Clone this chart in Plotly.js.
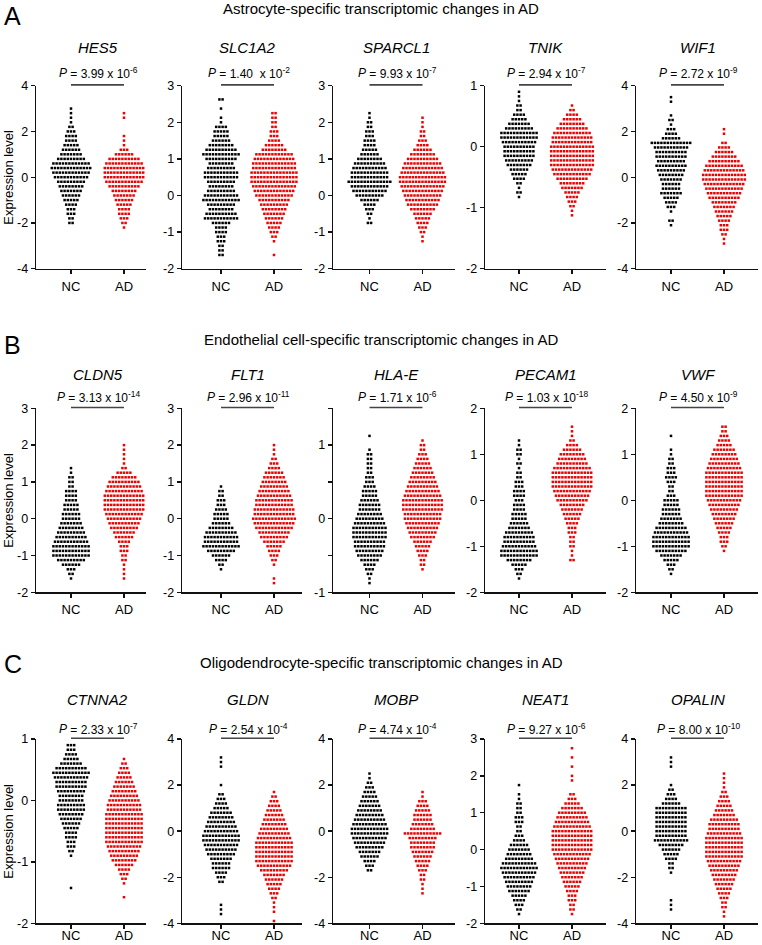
<!DOCTYPE html>
<html><head><meta charset="utf-8">
<script src="https://cdn.plot.ly/plotly-3.0.1.min.js"></script>
<style>html,body{margin:0;padding:0;background:#fff;}#chart{width:762px;height:945px;}</style>
</head><body><div id="chart"></div>
<script>
// ---------------- DATA ----------------
const sectionLetters = ['A', 'B', 'C'];
const sectionTitles = [
  'Astrocyte-specific transcriptomic changes in AD',
  'Endothelial cell-specific transcriptomic changes in AD',
  'Oligodendrocyte-specific transcriptomic changes in AD'
];
const genes = ['HES5','SLC1A2','SPARCL1','TNIK','WIF1','CLDN5','FLT1','HLA-E','PECAM1','VWF','CTNNA2','GLDN','MOBP','NEAT1','OPALIN'];
const pMantissa = ['3.99','1.40\u00a0','9.93','2.94','2.72','3.13','2.96','1.71','1.03','4.50','2.33','2.54','4.74','9.27','8.00'];
const pExponent = ['-6','-2','-7','-7','-9','-14','-11','-6','-18','-9','-7','-4','-4','-6','-10'];
const groups = ['NC', 'AD'];
const yMin = [-4,-2,-2,-2,-4, -2,-2,-1,-2,-2, -2,-4,-4,-2,-4];
const yMax = [4,3,3,1,4, 3,3,1.5,2,2, 1,4,4,3,4];
const yTickStep = [2,1,1,1,2, 1,1,0.5,1,1, 1,2,2,1,2];
const yLabelEvery = [1,1,1,1,1, 1,1,2,1,1, 1,1,1,1,1];
// expression-level bins (width of each row of the swarm) and lowest bin per group
const binStep = [0.2,0.125,0.125,0.075,0.2, 0.125,0.125,0.0625,0.1,0.1, 0.075,0.2,0.2,0.125,0.2];
const ncLow = [-2.0,-1.625,-0.75,-0.825,-2.1, -1.625,-1.375,-0.875,-1.7,-1.6, -1.425,-3.6,-1.7,-1.75,-3.4];
const adLow = [-2.2,-1.625,-1.25,-1.125,-2.9, -1.625,-1.75,-0.6875,-1.3,-1.1, -1.575,-3.9,-2.7,-1.75,-3.7];
// number of samples in each bin, from the lowest bin upward
const HES5_NC = [2,2,3,3,4,5,6,7,8,9,11,12,13,12,9,7,6,5,4,4,3,2,1,1,1,1];
const HES5_AD = [1,2,3,4,4,5,6,7,8,10,12,13,13,13,12,10,6,3,1,1,1,0,0,0,1,1];
const SLC1A2_NC = [2,2,2,3,3,4,4,6,11,10,8,9,12,11,9,8,9,11,11,9,8,10,12,10,8,6,5,5,4,1,1,0,1,0,2];
const SLC1A2_AD = [1,0,0,1,2,3,4,5,6,7,8,9,10,12,13,14,15,15,15,14,14,13,12,8,6,4,3,3,2,2,2,2];
const SPARCL1_NC = [2,1,2,3,4,6,9,11,12,14,12,12,11,10,8,6,5,4,4,3,3,2,2,1,1];
const SPARCL1_AD = [1,1,2,3,4,5,6,8,10,11,12,13,14,15,15,14,13,12,10,8,6,4,3,2,2,1,1,1];
const TNIK_NC = [1,2,1,2,4,5,6,8,9,10,10,10,11,12,12,9,7,5,4,2,2,1,1,1];
const TNIK_AD = [1,1,2,3,4,5,7,8,10,12,13,14,14,14,14,14,13,13,12,10,8,6,4,2,1];
const WIF1_NC = [1,2,0,1,3,4,5,7,6,6,7,8,9,10,9,10,10,11,13,6,4,3,1,2,1,0,0,1,1];
const WIF1_AD = [1,1,2,3,3,4,5,6,7,8,10,11,12,13,14,14,13,12,10,8,6,4,2,0,1,1];
const CLDN5_NC = [1,2,3,6,9,12,12,12,11,10,9,8,7,6,6,5,5,4,4,4,2,2,2,1,1];
const CLDN5_AD = [1,1,1,1,2,2,3,3,4,6,7,9,10,11,12,13,13,13,13,12,11,10,8,5,2,1,1,1,1,1];
const FLT1_NC = [1,2,4,6,9,12,11,11,10,8,6,5,5,4,3,3,2,2,1];
const FLT1_AD = [1,1,0,0,1,2,3,4,5,7,9,10,12,13,14,13,13,12,12,11,10,9,8,7,6,4,3,2,1,1,1];
const HLAE_NC = [1,1,2,3,4,6,8,9,10,10,11,11,11,10,9,8,7,7,6,5,5,4,3,3,2,2,2,2,2,1,0,0,1];
const HLAE_AD = [1,2,2,3,4,5,6,8,9,10,11,12,12,13,13,13,12,11,10,9,8,7,6,5,4,3,2,2,1];
const PECAM1_NC = [1,2,3,5,8,12,12,11,10,10,9,7,6,5,5,4,4,3,4,4,3,3,2,2,1,2,1,2,2,1,1];
const PECAM1_AD = [2,1,1,2,2,2,3,3,4,5,6,7,8,10,11,12,13,13,13,13,12,10,9,8,6,4,2,1,1,1];
const VWF_NC = [1,2,3,5,7,10,12,12,12,11,10,8,7,6,6,5,5,3,2,2,3,4,3,3,2,2,1,1,0,0,1];
const VWF_AD = [1,2,3,3,4,5,6,7,8,9,10,11,12,12,12,12,12,12,11,10,9,8,7,5,4,3,2,2];
const CTNNA2_NC = [1,0,0,0,0,0,0,1,2,3,3,4,4,5,6,7,8,9,9,8,8,9,10,10,11,12,10,7,5,4,3,3];
const CTNNA2_AD = [1,0,0,1,2,3,4,6,8,9,10,11,12,12,12,12,12,12,12,11,11,10,9,8,7,6,5,4,3,2,1];
const GLDN_NC = [1,1,1,0,0,0,0,2,3,4,6,6,7,9,10,11,12,12,11,10,9,8,7,5,4,3,2,0,1,0,0,0,1,1,1];
const GLDN_AD = [1,0,1,1,1,2,3,4,5,6,7,9,11,12,12,12,12,12,11,10,9,8,7,6,5,4,3,2,1];
const MOBP_NC = [2,3,4,6,7,9,10,11,12,12,11,10,9,8,7,6,5,4,3,2,1,1];
const MOBP_AD = [1,1,1,2,2,3,4,5,6,7,8,8,9,12,8,7,6,6,5,4,3,1,1];
const NEAT1_NC = [1,2,3,4,5,7,8,9,10,11,12,11,9,8,7,6,4,3,2,2,3,3,2,2,2,1,1,0,1];
const NEAT1_AD = [1,2,2,3,3,4,5,6,7,8,9,10,11,12,13,13,13,13,13,12,11,10,9,7,5,3,2,0,0,1,1,0,1,0,1,0,1];
const OPALIN_NC = [1,1,1,0,0,0,0,0,1,2,2,4,5,6,8,11,10,10,10,10,10,10,10,6,4,3,2,1,0,0,0,1,1,1];
const OPALIN_AD = [1,1,2,2,3,4,5,6,7,8,9,10,11,12,12,12,12,12,11,10,10,9,7,6,5,4,3,2,1,1,1,1];
const countsNC = [HES5_NC,SLC1A2_NC,SPARCL1_NC,TNIK_NC,WIF1_NC,CLDN5_NC,FLT1_NC,HLAE_NC,PECAM1_NC,VWF_NC,CTNNA2_NC,GLDN_NC,MOBP_NC,NEAT1_NC,OPALIN_NC];
const countsAD = [HES5_AD,SLC1A2_AD,SPARCL1_AD,TNIK_AD,WIF1_AD,CLDN5_AD,FLT1_AD,HLAE_AD,PECAM1_AD,VWF_AD,CTNNA2_AD,GLDN_AD,MOBP_AD,NEAT1_AD,OPALIN_AD];

// ---------------- LAYOUT GEOMETRY (pixels) ----------------
const W = 762, H = 945;
const secTop = [85.7, 408.3, 739];
const secBottom = [268.7, 592.3, 923.3];
const secTitleY = [8.5, 339, 662];
const secLetterY = [16, 345, 664];
const geneY = [47.5, 374, 699];
const pY = [72.5, 397, 729];
const xLabelShift = [1, 1, -4];
const ncPx = [71, 221, 369.5, 519, 671];
const axLeft = [36, 182, 333, 485, 636];
const axRight = [146, 302, 455, 606, 758];
const unitPx = 53;
const dotGap = 3.2;
const FONT = 'Arial, "Liberation Sans", sans-serif';
const colors = ['#000000', '#ee0000'];
const P_SIZE = 12;

const ctx = document.createElement('canvas').getContext('2d');
function textW(str, size, italic) {
  ctx.font = (italic ? 'italic ' : '') + size + 'px Arial, "Liberation Sans", sans-serif';
  return ctx.measureText(str).width;
}

function swarm(counts, lo, step, center) {
  const xs = [], ys = [];
  counts.forEach((n, k) => {
    const y = lo + k * step;
    for (let i = 0; i < n; i++) {
      xs.push(center + (i - (n - 1) / 2) * dotGap / unitPx);
      ys.push(y);
    }
  });
  return {xs, ys};
}

const traces = [];
const layout = {
  width: W, height: H, margin: {l: 0, r: 0, t: 0, b: 0},
  paper_bgcolor: '#fff', plot_bgcolor: 'rgba(0,0,0,0)',
  showlegend: false, font: {family: FONT, color: '#000', size: 12},
  annotations: [], shapes: []
};
const py = v => 1 - v / H;

for (let p = 0; p < genes.length; p++) {
  const s = Math.floor(p / 5), c = p % 5;
  const n = p + 1;
  const xa = 'x' + (n === 1 ? '' : n), ya = 'y' + (n === 1 ? '' : n);
  const xKey = 'xaxis' + (n === 1 ? '' : n), yKey = 'yaxis' + (n === 1 ? '' : n);
  const tv = [], tt = [];
  for (let v = yMin[p]; v <= yMax[p] + 1e-9; v += yTickStep[p]) {
    const r = Math.round(v * 100) / 100;
    tv.push(r);
    tt.push((Math.round((r - yMin[p]) / yTickStep[p]) % yLabelEvery[p] === 0) ? String(r) : ' ');
  }
  layout[xKey] = {
    domain: [axLeft[c] / W, axRight[c] / W],
    range: [(axLeft[c] - ncPx[c]) / unitPx, (axRight[c] - ncPx[c]) / unitPx],
    anchor: ya, tickvals: [0, 1], ticktext: groups,
    showline: true, linecolor: '#111', linewidth: 1.4,
    ticks: 'outside', ticklen: 4, tickwidth: 1.4, tickcolor: '#111',
    ticklabelstandoff: xLabelShift[s],
    showgrid: false, zeroline: false, fixedrange: true,
    tickfont: {size: 13, family: FONT, color: '#000'}
  };
  layout[yKey] = {
    domain: [py(secBottom[s]), py(secTop[s])],
    range: [yMin[p], yMax[p]], anchor: xa,
    tickvals: tv, ticktext: tt,
    showline: true, linecolor: '#111', linewidth: 1.4,
    ticks: 'outside', ticklen: 4, tickwidth: 1.4, tickcolor: '#111',
    showgrid: false, zeroline: false, fixedrange: true,
    tickfont: {size: 12.5, family: FONT, color: '#000'}
  };
  const nc = swarm(countsNC[p], ncLow[p], binStep[p], 0);
  const ad = swarm(countsAD[p], adLow[p], binStep[p], 1);
  [nc, ad].forEach((g, gi) => {
    traces.push({
      type: 'scatter', mode: 'markers', x: g.xs, y: g.ys, xaxis: xa, yaxis: ya,
      name: groups[gi], hoverinfo: 'skip', cliponaxis: false,
      marker: {symbol: 'square', size: 2.5, color: colors[gi], line: {width: 0}}
    });
  });
  // bracket
  layout.shapes.push({type: 'line', xref: xa, x0: 0, x1: 1, yref: 'paper',
    y0: py(secTop[s] - 0.8), y1: py(secTop[s] - 0.8), line: {color: '#444', width: 1.6}});
  layout.annotations.push({xref: xa, x: 0.5, yref: 'paper', y: py(geneY[s]),
    text: genes[p], showarrow: false, xanchor: 'center', yanchor: 'middle',
    font: {size: 15, family: FONT, color: '#000', style: 'italic'}});
  // P value: italic "P" + plain remainder, centred together over the bracket
  const rest = '\u00a0= ' + pMantissa[p] + ' x 10';
  const wP = textW('P', P_SIZE, true);
  const wRest = textW(rest, P_SIZE, false) + textW(pExponent[p], P_SIZE * 0.7, false);
  const left = -(wP + wRest) / 2;
  layout.annotations.push({xref: xa, x: 0.5 + left / unitPx, yref: 'paper', y: py(pY[s]),
    text: 'P', showarrow: false, xanchor: 'left', yanchor: 'middle', borderpad: 0,
    font: {size: P_SIZE, family: FONT, color: '#000', style: 'italic'}});
  layout.annotations.push({xref: xa, x: 0.5 + (left + wP) / unitPx, yref: 'paper', y: py(pY[s]),
    text: rest + '<sup>' + pExponent[p] + '</sup>', showarrow: false, xanchor: 'left', yanchor: 'middle', borderpad: 0,
    font: {size: P_SIZE, family: FONT, color: '#000'}});
  if (c === 0) {
    layout.annotations.push({xref: 'paper', x: 8.5 / W, yref: 'paper',
      y: py((secTop[s] + secBottom[s]) / 2), text: 'Expression level', textangle: -90,
      showarrow: false, xanchor: 'center', yanchor: 'middle',
      font: {size: 13, family: FONT, color: '#000'}});
  }
}
for (let s = 0; s < 3; s++) {
  layout.annotations.push({xref: 'paper', x: 381 / W, yref: 'paper', y: py(secTitleY[s]),
    text: sectionTitles[s], showarrow: false, xanchor: 'center', yanchor: 'middle',
    font: {size: 15, family: FONT, color: '#000'}});
  layout.annotations.push({xref: 'paper', x: 2 / W, yref: 'paper', y: py(secLetterY[s]),
    text: sectionLetters[s], showarrow: false, xanchor: 'left', yanchor: 'middle',
    font: {size: 25, family: FONT, color: '#000'}});
}
Plotly.newPlot('chart', traces, layout, {displayModeBar: false, staticPlot: true}).then(gd => {
  gd.querySelectorAll('text').forEach(t => { if (!t.textContent.trim()) t.remove(); });
});
</script>
</body></html>
